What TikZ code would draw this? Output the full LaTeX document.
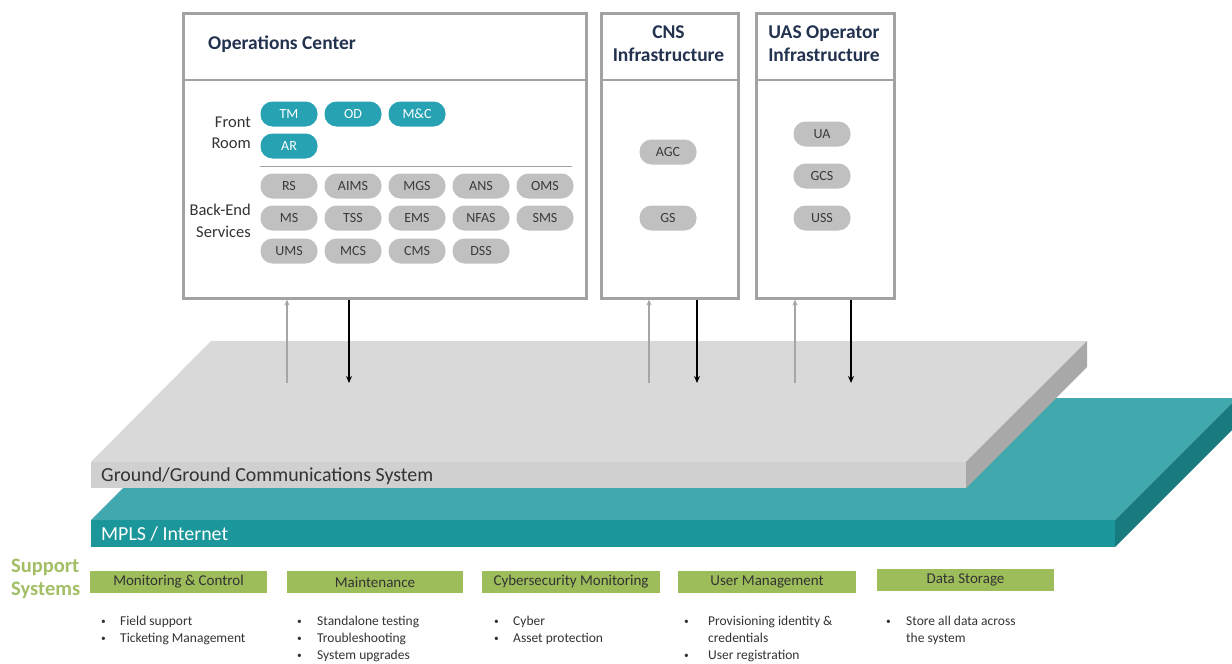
\documentclass[tikz,border=0pt]{standalone}
\usepackage{fontspec}
\setmainfont{Carlito}
\usetikzlibrary{arrows.meta,shadows}
\definecolor{panelborder}{HTML}{A3A3A3}
\definecolor{navy}{HTML}{22324F}
\definecolor{tealpill}{HTML}{27A2B3}
\definecolor{graypill}{HTML}{C0C0C0}
\definecolor{pilltext}{HTML}{3A3A3A}
\definecolor{slabtop}{HTML}{D9D9D9}
\definecolor{slabfront}{HTML}{D0D0D0}
\definecolor{slabside}{HTML}{A8A8A8}
\definecolor{tealtop}{HTML}{41A9AE}
\definecolor{tealfront}{HTML}{1B979C}
\definecolor{tealside}{HTML}{177B7F}
\definecolor{supgreen}{HTML}{9DBD5A}
\definecolor{suptext}{HTML}{A3BF66}
\definecolor{darktext}{HTML}{333333}
\newcommand{\smbul}{\raisebox{0.1em}{\scalebox{0.7}{•}}}
\tikzset{
  panel/.style={draw=panelborder, line width=2.6pt, fill=white, anchor=north west, inner sep=0pt,
    drop shadow={shadow xshift=1.5pt, shadow yshift=-1.5pt, opacity=0.35}},
  divider/.style={draw=panelborder, line width=2.2pt},
  hdr/.style={font=\fontsize{19.5}{23}\selectfont\bfseries, text=navy, inner sep=0pt, align=center},
  pillbase/.style={rounded corners=12pt, minimum width=57pt, minimum height=25pt, inner sep=0pt,
    font=\fontsize{14}{16}\selectfont},
  tpill/.style={pillbase, fill=tealpill, text=white},
  gpill/.style={pillbase, fill=graypill, text=pilltext},
  lbl/.style={font=\fontsize{16.5}{21.5}\selectfont, text=darktext, inner sep=0pt, align=right, anchor=east},
  uparr/.style={draw=gray!70, line width=1.2pt, -{Stealth[length=6pt,width=5pt]}},
  downarr/.style={draw=black, line width=1.4pt, -{Stealth[length=7pt,width=6pt]}},
  slablbl/.style={font=\fontsize{19.9}{23}\selectfont, inner sep=0pt, anchor=west},
  sbox/.style={fill=supgreen, minimum height=22pt, inner sep=0pt, text=darktext,
    font=\fontsize{15}{17}\selectfont},
  blist/.style={inner sep=0pt, anchor=north west, text=darktext, font=\fontsize{13.5}{16.8}\selectfont}
}
\begin{document}
\begin{tikzpicture}[x=1pt,y=-1pt]
\useasboundingbox (0,0) rectangle (1232,664);
\fill[white] (0,0) rectangle (1232,664);

% ---------- slabs ----------
% teal (MPLS / Internet)
\fill[tealtop] (213,398) -- (1237,398) -- (1115,520) -- (91,520) -- cycle;
\fill[tealfront] (91,520) rectangle (1115,547);
\fill[tealside] (1115,520) -- (1237,398) -- (1237,425) -- (1115,547) -- cycle;
% gray (Ground/Ground)
\fill[slabtop] (211,341) -- (1087,341) -- (966,462) -- (91,462) -- cycle;
\fill[slabfront] (91,462) rectangle (966,488);
\fill[slabside] (966,462) -- (1087,341) -- (1087,367) -- (966,488) -- cycle;

\node[slablbl, text=darktext] (gg) at (101,476) {Ground/Ground Communications System};
\node[slablbl, text=white] (mpls) at (101,534) {MPLS / Internet};

% ---------- panels ----------
\node[panel, minimum width=403pt, minimum height=285pt] (ops) at (182,12) {};
\node[panel, minimum width=137pt, minimum height=285pt] (cns) at (600,12) {};
\node[panel, minimum width=138pt, minimum height=285pt] (uas) at (755,12) {};
\draw[divider] (182,80) -- (585,80);
\draw[divider] (600,80) -- (737,80);
\draw[divider] (755,80) -- (893,80);

\node[hdr, anchor=west] (opsh) at (208,44) {Operations Center};
\node[hdr] (cnsh) at (668.5,44) {CNS\\Infrastructure};
\node[hdr] (uash) at (824,44) {UAS Operator\\Infrastructure};

% Front room / back-end labels
\node[lbl] (front) at (251,133) {Front\\Room};
\node[lbl] (back) at (251,221) {Back-End\\Services};
\draw[draw=panelborder, line width=1.6pt] (260,166.5) -- (572,166.5);

% Front room pills
\node[tpill] (tm) at (289,114) {TM};
\node[tpill] (od) at (353,114) {OD};
\node[tpill] (mc) at (417,114) {M\&C};
\node[tpill] (ar) at (289,146) {AR};

% Back-end pills
\node[gpill] (rs)   at (289,186) {RS};
\node[gpill] (aims) at (353,186) {AIMS};
\node[gpill] (mgs)  at (417,186) {MGS};
\node[gpill] (ans)  at (481,186) {ANS};
\node[gpill] (oms)  at (545,186) {OMS};
\node[gpill] (ms)   at (289,218) {MS};
\node[gpill] (tss)  at (353,218) {TSS};
\node[gpill] (ems)  at (417,218) {EMS};
\node[gpill] (nfas) at (481,218) {NFAS};
\node[gpill] (sms)  at (545,218) {SMS};
\node[gpill] (ums)  at (289,251) {UMS};
\node[gpill] (mcs)  at (353,251) {MCS};
\node[gpill] (cms)  at (417,251) {CMS};
\node[gpill] (dss)  at (481,251) {DSS};

% CNS pills
\node[gpill] (agc) at (668,152) {AGC};
\node[gpill] (gs)  at (668,218) {GS};
% UAS pills
\node[gpill] (ua)  at (822,134) {UA};
\node[gpill] (gcs) at (822,176) {GCS};
\node[gpill] (uss) at (822,218) {USS};

% ---------- arrows ----------
\coordinate (opsup) at (287,383);
\coordinate (opsdn) at (349,383);
\coordinate (cnsup) at (649,383);
\coordinate (cnsdn) at (697,383);
\coordinate (uasup) at (795,383);
\coordinate (uasdn) at (851,383);
\draw[uparr] (opsup) -- (opsup |- ops.south);
\draw[downarr] (opsdn |- ops.south) -- (opsdn);
\draw[uparr] (cnsup) -- (cnsup |- cns.south);
\draw[downarr] (cnsdn |- cns.south) -- (cnsdn);
\draw[uparr] (uasup) -- (uasup |- uas.south);
\draw[downarr] (uasdn |- uas.south) -- (uasdn);

% ---------- support systems ----------
\node[inner sep=0pt, anchor=west, align=left, text=suptext,
  font=\fontsize{20.5}{22.5}\selectfont\bfseries] (sup) at (11,579) {Support\\Systems};

\node[sbox, minimum width=177pt] (s1) at (178.5,582) {Monitoring \& Control};
\node[sbox, minimum width=176pt] (s2) at (375,582) {Maintenance};
\node[sbox, minimum width=178pt] (s3) at (571,582) {Cybersecurity Monitoring};
\node[sbox, minimum width=178pt] (s4) at (767,582) {User Management};
\node[sbox, minimum width=177pt] (s5) at (965.5,580) {Data Storage};

\node[blist] (l1) at (101,614) {\begin{tabular}{@{}p{19pt}@{}l@{}}\smbul&Field support\\\smbul&Ticketing Management\end{tabular}};
\node[blist] (l2) at (297,614) {\begin{tabular}{@{}p{20pt}@{}l@{}}\smbul&Standalone testing\\\smbul&Troubleshooting\\\smbul&System upgrades\end{tabular}};
\node[blist] (l3) at (494,614) {\begin{tabular}{@{}p{19pt}@{}l@{}}\smbul&Cyber\\\smbul&Asset protection\end{tabular}};
\node[blist] (l4) at (684,614) {\begin{tabular}{@{}p{24pt}@{}l@{}}\smbul&Provisioning identity \&\\&credentials\\\smbul&User registration\end{tabular}};
\node[blist] (l5) at (886,614) {\begin{tabular}{@{}p{20pt}@{}l@{}}\smbul&Store all data across\\&the system\end{tabular}};
\end{tikzpicture}
\end{document}
